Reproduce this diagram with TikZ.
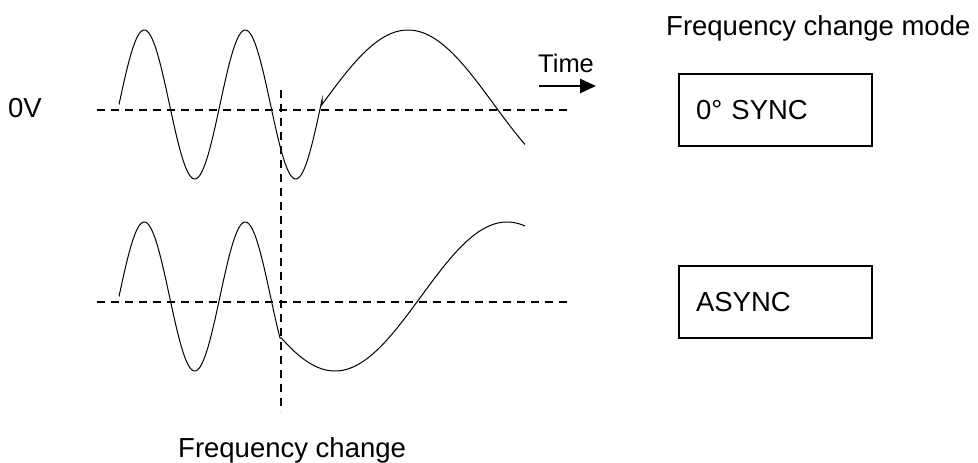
\documentclass[tikz,border=0pt]{standalone}
\usepackage{fontspec}
\setmainfont{Liberation Sans}
\usetikzlibrary{arrows.meta}
\begin{document}
\begin{tikzpicture}[x=1pt,y=-1pt,
  wave/.style={line width=1pt, black},
  dashline/.style={line width=1.8pt, dash pattern=on 8pt off 6pt},
  lbl/.style={inner sep=0pt, anchor=base west, font=\fontsize{27.5}{31}\selectfont},
  modebox/.style={draw, line width=1.8pt, minimum width=193pt, minimum height=72pt,
    text width=159pt, align=left, inner xsep=17pt, inner ysep=0pt,
    font=\fontsize{27.5}{31}\selectfont}]
\useasboundingbox (0,0) rectangle (978,463);

% baselines and frequency-change marker
\draw[dashline] (97,110) -- (568,110);
\draw[dashline] (97,302) -- (568,302);
\draw[dashline] (281,90) -- (281,412);

% 0 deg SYNC waveform
\draw[wave] plot[domain=119:322,samples=200] (\x,{104.5-74.5*sin((\x-119)*3.56436)})
  -- plot[domain=322:525,samples=150] (\x,{104.5-74.5*sin((\x-322)*1.04651)});

% ASYNC waveform
\draw[wave] plot[domain=119:280,samples=200] (\x,{296.5-74.5*sin((\x-119)*3.56436)})
  -- plot[domain=281.5:525,samples=150] (\x,{296.5+74.5*cos((\x-335)*1.04651)});

% labels
\node[lbl] (zerov) at (8,117) {0V};
\node[lbl, font=\fontsize{25.5}{29}\selectfont] (time) at (538,72) {Time};
\coordinate (ts) at (539,86);
\coordinate (te) at (596,86);
\draw[line width=2.6pt, -{Triangle[length=16pt,width=14pt]}] (ts) -- (te);
\node[lbl] (fcm) at (666,35) {Frequency change mode};
\node[lbl] (fc) at (178,457) {Frequency change};

% mode boxes
\node[modebox] (sync) at (775.5,110) {0° SYNC};
\node[modebox] (async) at (775.5,302) {ASYNC};
\end{tikzpicture}
\end{document}
